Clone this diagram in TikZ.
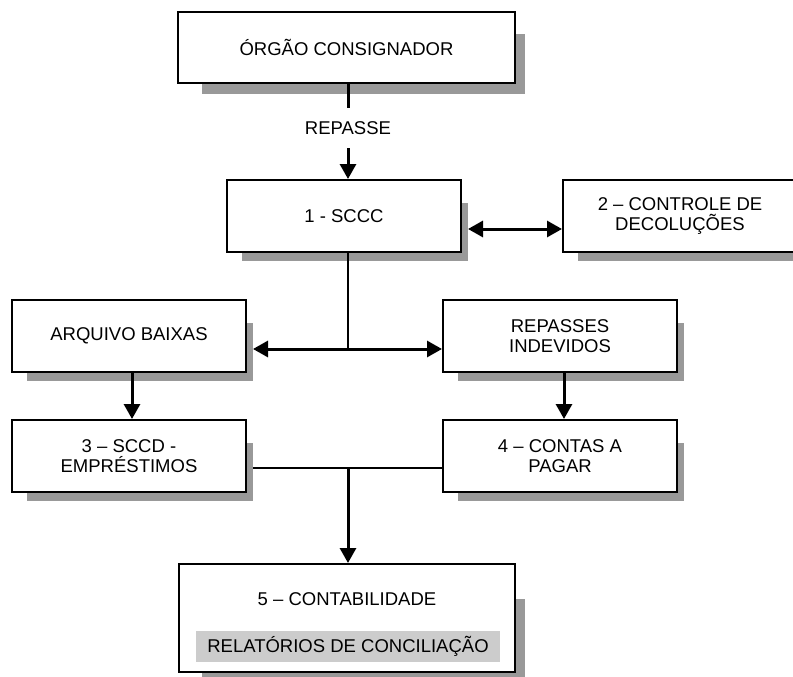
\documentclass[tikz,border=0pt]{standalone}
\usepackage{fontspec}
\setmainfont{Liberation Sans}
\usetikzlibrary{arrows.meta,calc,backgrounds}
\definecolor{shd}{HTML}{999999}
\definecolor{bandgray}{HTML}{CCCCCC}
\begin{document}
\begin{tikzpicture}[x=1pt,y=-1pt,
  box/.style={draw=black,line width=2pt,fill=white,inner sep=0pt,
    minimum width=234pt,minimum height=72pt,align=center,
    font=\fontsize{18.5}{20.5}\selectfont},
  lbl/.style={inner sep=0pt,font=\fontsize{18.5}{20.5}\selectfont},
  thickline/.style={line width=3pt},
  thinline/.style={line width=1.6pt},
  thickarrow/.style={line width=3pt,-{Triangle[length=15pt,width=16pt]}},
  dblarrow/.style={line width=3pt,{Triangle[length=15pt,width=16pt]}-{Triangle[length=15pt,width=16pt]}},
  shadow/.style={fill=shd}
]
\useasboundingbox (0,0) rectangle (793,677);
\clip (0,0) rectangle (793,677);

% boxes
\node[box,minimum width=337pt,minimum height=71pt] (org) at (346.5,47.5) {ÓRGÃO CONSIGNADOR};
\node[lbl,minimum height=40pt] (rep) at (348,128) {REPASSE};
\node[box] (sccc) at (344,216) {1 - SCCC};
\node[box] (ctrl) at (680,216) {2 – CONTROLE DE\\DECOLUÇÕES};
\node[box] (arq) at (129,336) {ARQUIVO BAIXAS};
\node[box] (rind) at (560,336) {REPASSES\\INDEVIDOS};
\node[box] (sccd) at (129,456) {3 – SCCD -\\EMPRÉSTIMOS};
\node[box] (cap) at (560,456) {4 – CONTAS A\\PAGAR};
\node[box,minimum width=336pt,minimum height=108pt] (cont) at (347,618) {};
\node[lbl] (conttxt) at (347,599) {5 – CONTABILIDADE};
\node[lbl,fill=bandgray,minimum width=304pt,minimum height=31pt] (rel) at (348,646.5) {RELATÓRIOS DE CONCILIAÇÃO};

% shadows
\begin{scope}[on background layer]
\clip (0,0) rectangle (793,677);
\fill[shadow] ($(org.north west)+(25,23)$) rectangle ($(org.south east)+(9,10)$);
\fill[shadow] ($(cont.north west)+(24,36)$) rectangle ($(cont.south east)+(9,9)$);
\foreach \n in {sccc,ctrl,arq,rind,sccd,cap}
  \fill[shadow] ($(\n.north west)+(16,24)$) rectangle ($(\n.south east)+(6,8)$);
\end{scope}

% connectors
\draw[thickline] (rep.north |- org.south) -- (rep.north);
\draw[thickarrow] (rep.south) -- (rep.south |- sccc.north);
\draw[dblarrow] ($(sccc.east)+(6,13)$) -- ($(ctrl.west)+(0,13)$);
\coordinate (j1) at (348,349);
\draw[thinline] (j1 |- sccc.south) -- (j1);
\draw[dblarrow] ($(arq.east |- j1)+(6,0)$) -- (rind.west |- j1);
\draw[thickarrow] ($(arq.south)+(3,0)$) -- ($(sccd.north)+(3,0)$);
\draw[thickarrow] ($(rind.south)+(4,0)$) -- ($(cap.north)+(4,0)$);
\coordinate (j2) at (348,468);
\draw[thinline] ($(sccd.east |- j2)+(6,0)$) -- (cap.west |- j2);
\draw[thickarrow] (j2) -- (j2 |- cont.north);
\end{tikzpicture}
\end{document}
